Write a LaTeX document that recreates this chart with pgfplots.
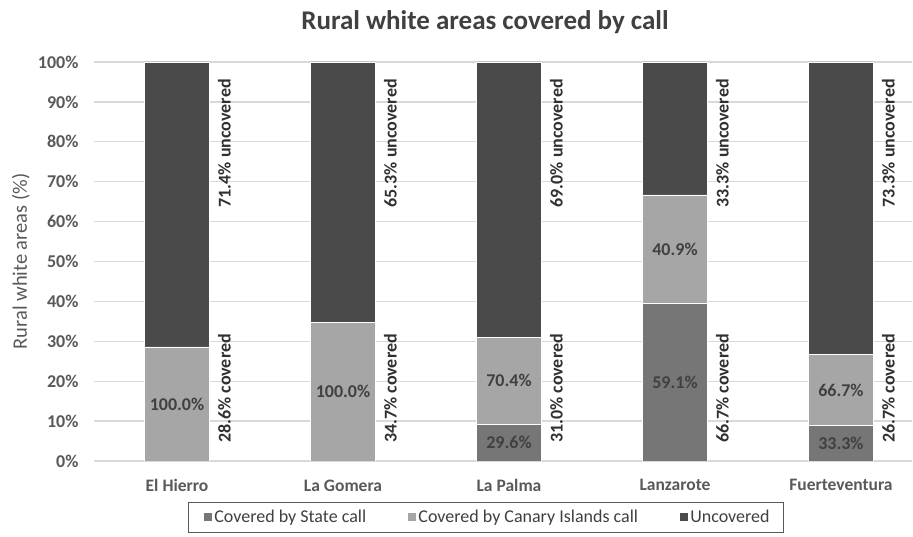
\documentclass[border=0pt]{standalone}
\usepackage{pgfplots}
\pgfplotsset{compat=1.18}
\usepackage{pgfplotstable}
\usepackage{fontspec}
\setmainfont{Carlito}

\definecolor{cState}{HTML}{767676}
\definecolor{cCanary}{HTML}{A6A6A6}
\definecolor{cUnc}{HTML}{4A4A4A}
\definecolor{gridgray}{HTML}{D9D9D9}
\definecolor{tickgray}{HTML}{595959}
\definecolor{labgray}{HTML}{404040}
\definecolor{sidegray}{HTML}{303030}

% x: island index; state/canary/unc: share of all rural white areas (%)
\pgfplotstableread{
x state canary unc
0 0     28.6   71.4
1 0     34.7   65.3
2 9.18  21.82  69.0
3 39.42 27.28  33.3
4 8.89  17.81  73.3
}\islands

\newcommand\lab{\bfseries\fontsize{18}{18}\selectfont}
% totals beside each bar
\newcommand\covlab[2]{\node[font=\lab, text=sidegray, rotate=90, anchor=west, inner sep=0pt]
  at ([xshift=47.5pt,yshift=18pt]axis cs:#1,0) {#2\% covered};}
\newcommand\unclab[2]{\node[font=\lab, text=sidegray, rotate=90, anchor=east, inner sep=0pt]
  at ([xshift=47.5pt,yshift=-17pt]axis cs:#1,100) {#2\% uncovered};}

% square legend swatch, #1 = blank room before it
\pgfplotsset{swatch/.style={legend image code/.code={%
  \path (0pt,0pt);\fill[##1,draw=none] (#1,-4pt) rectangle ([xshift=8pt]#1,4pt);}}}

\begin{document}
\begin{tikzpicture}
\useasboundingbox (0,0) rectangle (913pt,537pt);
\begin{axis}[
  at={(94pt,76pt)}, anchor=south west,
  width=818pt, height=399pt, scale only axis,
  ybar stacked, bar width=65pt,
  xmin=-0.5, xmax=4.428, ymin=0, ymax=100,
  xtick={0,1,2,3,4},
  xticklabels={El Hierro,La Gomera,La Palma,Lanzarote,Fuerteventura},
  ytick={0,10,...,100},
  yticklabel={\pgfmathprintnumber{\tick}\%},
  /pgf/number format/assume math mode=true,
  ymajorgrids, grid style={draw=gridgray, line width=1.3pt},
  axis line style={draw=none}, tick style={draw=none},
  yticklabel style={font=\bfseries\fontsize{18}{18}\selectfont, text=tickgray, xshift=-12pt},
  xticklabel style={font=\bfseries\fontsize{17.5}{17.5}\selectfont, text=tickgray, yshift=-15pt},
  ylabel={Rural white areas (\%)},
  every axis y label/.style={at={(axis description cs:-0.0895,0.5)}, rotate=90, anchor=center,
    font=\fontsize{20.5}{20.5}\selectfont, text=tickgray},
  title={Rural white areas covered by call},
  title style={at={(axis description cs:0.478,1.085)}, anchor=center,
    font=\bfseries\fontsize{27}{27}\selectfont, text=labgray},
  legend columns=3,
  legend style={at={(axis description cs:0.479,-0.1028)}, anchor=north,
    draw=tickgray, line width=0.8pt, inner xsep=12pt, inner ysep=6pt,
    font=\fontsize{18}{18}\selectfont, text=labgray},
]
\addplot[fill=cState, draw=white, line width=0.6pt, swatch=4pt] table[x=x, y=state] {\islands};
\addlegendentry{Covered by State call}
\addplot[fill=cCanary, draw=white, line width=0.6pt, swatch=40pt] table[x=x, y=canary] {\islands};
\addlegendentry{Covered by Canary Islands call}
\addplot[fill=cUnc, draw=white, line width=0.6pt, swatch=40pt] table[x=x, y=unc] {\islands};
\addlegendentry{Uncovered}

% middles of the segments that carry a share label
\coordinate (c0) at (axis cs:0,14.3);
\coordinate (c1) at (axis cs:1,17.35);
\coordinate (s2) at (axis cs:2,4.59);
\coordinate (c2) at (axis cs:2,20.09);
\coordinate (s3) at (axis cs:3,19.71);
\coordinate (c3) at (axis cs:3,53.06);
\coordinate (s4) at (axis cs:4,4.45);
\coordinate (c4) at (axis cs:4,17.8);

\covlab{0}{28.6}
\covlab{1}{34.7}
\covlab{2}{31.0}
\covlab{3}{66.7}
\covlab{4}{26.7}

\unclab{0}{71.4}
\unclab{1}{65.3}
\unclab{2}{69.0}
\unclab{3}{33.3}
\unclab{4}{73.3}
\end{axis}

% share of the covered part reached by each call
\begin{scope}[every node/.style={font=\lab, text=labgray, anchor=center}]
\node at (c0) {100.0\%};
\node at (c1) {100.0\%};
\node at (s2) {29.6\%};
\node at (c2) {70.4\%};
\node at (s3) {59.1\%};
\node at (c3) {40.9\%};
\node at (s4) {33.3\%};
\node at (c4) {66.7\%};
\end{scope}
\end{tikzpicture}
\end{document}
